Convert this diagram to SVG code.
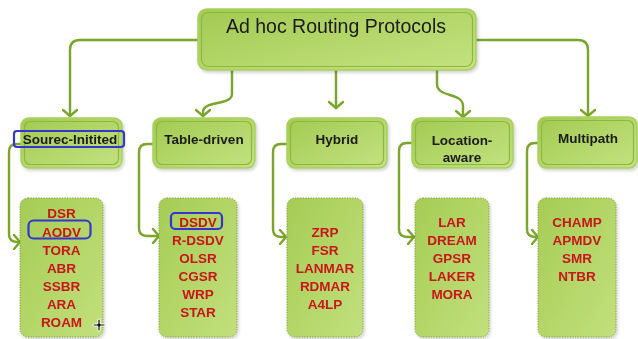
<svg xmlns="http://www.w3.org/2000/svg" width="638" height="339" viewBox="0 0 638 339">
  <defs>
    <linearGradient id="boxFill" x1="0" y1="0" x2="1" y2="1">
      <stop offset="0" stop-color="#a3ca52"/>
      <stop offset="1" stop-color="#c4e281"/>
    </linearGradient>
    <linearGradient id="listFill" x1="0" y1="0" x2="1" y2="1">
      <stop offset="0" stop-color="#a6cc55"/>
      <stop offset="1" stop-color="#c2e07c"/>
    </linearGradient>
    <filter id="shadow" x="-10%" y="-10%" width="125%" height="130%">
      <feDropShadow dx="1.5" dy="2" stdDeviation="1.5" flood-color="#000" flood-opacity="0.18"/>
    </filter>
    <marker id="chev" viewBox="-8 -8 10 16" markerWidth="10" markerHeight="16" refX="0" refY="0" orient="auto" markerUnits="userSpaceOnUse">
      <path d="M-6,-7 L0,0 L-6,7" fill="none" stroke="#7aa52a" stroke-width="2.4" stroke-linecap="round" stroke-linejoin="round"/>
    </marker>
  </defs>
  <style>
    .outer { fill: url(#boxFill); stroke: #a9cf60; stroke-width: 1.5; }
    .inner { fill: none; stroke: #8db83d; stroke-width: 1.2; }
    .list { fill: url(#listFill); stroke: #7f9f3a; stroke-width: 1; stroke-dasharray: 1.2 1.4; }
    .wire { fill: none; stroke: #7aa52a; stroke-width: 2.4; stroke-linecap: round; stroke-linejoin: round; marker-end: url(#chev); }
    .title { font-family: "Liberation Sans", "Open Sans", sans-serif; font-size: 19.5px; fill: #1a1a1a; text-anchor: middle; }
    .head { font-family: "Liberation Sans", "Open Sans", sans-serif; font-size: 13.5px; font-weight: bold; fill: #1a1a1a; text-anchor: middle; }
    .item { font-family: "Liberation Sans", "Open Sans", sans-serif; font-size: 13.5px; font-weight: bold; fill: #c8161a; text-anchor: middle; }
    .mark { fill: none; stroke: #3535d0; stroke-width: 2.2; }
  </style>

  <!-- connectors -->
  <g id="connectors">
    <path class="wire" d="M198,40 H80 Q70,40 70,50 V116"/>
    <path class="wire" d="M232,70 V94 C232,106 203,100 203,112 V116"/>
    <path class="wire" d="M336,70 V108"/>
    <path class="wire" d="M437,70 V84 C437,98 463,92 463,106 V117"/>
    <path class="wire" d="M476,40 H578 Q588,40 588,50 V116"/>

    <path class="wire" d="M21,144 H17 Q9,144 9,152 V234 Q9,242 17,242 H20"/>
    <path class="wire" d="M153,144 H147 Q139,144 139,152 V228 Q139,236 147,236 H159"/>
    <path class="wire" d="M287,144 H281 Q273,144 273,152 V229 Q273,237 281,237 H286"/>
    <path class="wire" d="M412,143 H407 Q399,143 399,151 V229 Q399,237 407,237 H414"/>
    <path class="wire" d="M538,143 H535 Q527,143 527,151 V229 Q527,237 535,237 H538"/>
  </g>

  <!-- root -->
  <g id="root" filter="url(#shadow)">
    <rect class="outer" x="198" y="9" width="278" height="61" rx="9"/>
    <rect class="inner" x="201.5" y="12.5" width="271" height="54" rx="7"/>
    <text class="title" x="336" y="33">Ad hoc Routing Protocols</text>
  </g>

  <!-- categories -->
  <g id="source-initiated" filter="url(#shadow)">
    <rect class="outer" x="21" y="118" width="101" height="50" rx="8"/>
    <rect class="inner" x="24.5" y="121.5" width="94" height="43" rx="6"/>
    <text class="head" x="70" y="144">Sourec-Initited</text>
  </g>
  <g id="table-driven" filter="url(#shadow)">
    <rect class="outer" x="153" y="118" width="102" height="50" rx="8"/>
    <rect class="inner" x="156.5" y="121.5" width="95" height="43" rx="6"/>
    <text class="head" x="204" y="144">Table-driven</text>
  </g>
  <g id="hybrid" filter="url(#shadow)">
    <rect class="outer" x="287" y="118" width="100" height="50" rx="8"/>
    <rect class="inner" x="290.5" y="121.5" width="93" height="43" rx="6"/>
    <text class="head" x="337" y="144">Hybrid</text>
  </g>
  <g id="location-aware" filter="url(#shadow)">
    <rect class="outer" x="412" y="118" width="101" height="50" rx="8"/>
    <rect class="inner" x="415.5" y="121.5" width="94" height="43" rx="6"/>
    <text class="head" x="462" y="145">Location-</text>
    <text class="head" x="462" y="162">aware</text>
  </g>
  <g id="multipath" filter="url(#shadow)">
    <rect class="outer" x="538" y="117" width="99" height="51" rx="8"/>
    <rect class="inner" x="541.5" y="120.5" width="92" height="44" rx="6"/>
    <text class="head" x="588" y="143">Multipath</text>
  </g>

  <!-- protocol lists -->
  <g id="list-source-initiated" filter="url(#shadow)">
    <rect class="list" x="20" y="198" width="83" height="139" rx="8"/>
    <text class="item" x="61.5" y="218">DSR</text>
    <text class="item" x="61.5" y="236.5">AODV</text>
    <text class="item" x="61.5" y="254.5">TORA</text>
    <text class="item" x="61.5" y="272.5">ABR</text>
    <text class="item" x="61.5" y="290.5">SSBR</text>
    <text class="item" x="61.5" y="308.5">ARA</text>
    <text class="item" x="61.5" y="326.5">ROAM</text>
  </g>
  <g id="list-table-driven" filter="url(#shadow)">
    <rect class="list" x="159" y="198" width="78" height="139" rx="8"/>
    <text class="item" x="198" y="226.5">DSDV</text>
    <text class="item" x="198" y="244.5">R-DSDV</text>
    <text class="item" x="198" y="262.5">OLSR</text>
    <text class="item" x="198" y="280.5">CGSR</text>
    <text class="item" x="198" y="298.5">WRP</text>
    <text class="item" x="198" y="316.5">STAR</text>
  </g>
  <g id="list-hybrid" filter="url(#shadow)">
    <rect class="list" x="287" y="198" width="76" height="139" rx="8"/>
    <text class="item" x="325" y="236.5">ZRP</text>
    <text class="item" x="325" y="254.5">FSR</text>
    <text class="item" x="325" y="272.5">LANMAR</text>
    <text class="item" x="325" y="290.5">RDMAR</text>
    <text class="item" x="325" y="308.5">A4LP</text>
  </g>
  <g id="list-location-aware" filter="url(#shadow)">
    <rect class="list" x="415" y="198" width="74" height="139" rx="8"/>
    <text class="item" x="452" y="226.5">LAR</text>
    <text class="item" x="452" y="244.5">DREAM</text>
    <text class="item" x="452" y="262.5">GPSR</text>
    <text class="item" x="452" y="280.5">LAKER</text>
    <text class="item" x="452" y="298.5">MORA</text>
  </g>
  <g id="list-multipath" filter="url(#shadow)">
    <rect class="list" x="538" y="198" width="78" height="139" rx="8"/>
    <text class="item" x="577" y="226.5">CHAMP</text>
    <text class="item" x="577" y="244.5">APMDV</text>
    <text class="item" x="577" y="262.5">SMR</text>
    <text class="item" x="577" y="280.5">NTBR</text>
  </g>

  <!-- hand-drawn highlight rings -->
  <g id="highlights">
    <rect class="mark" x="14" y="131" width="110" height="16" rx="3"/>
    <rect class="mark" x="28.5" y="220.5" width="62" height="18" rx="5"/>
    <rect class="mark" x="171" y="213" width="51" height="16" rx="4"/>
  </g>

  <!-- pointer -->
  <g id="pointer" stroke-linecap="round">
    <path d="M99,320 V330 M94,325 H104" stroke="#fff" stroke-width="3"/>
    <path d="M99,320 V330 M94,325 H104" stroke="#111" stroke-width="1.2"/>
    <circle cx="99" cy="325" r="1.6" fill="#111"/>
  </g>
</svg>
